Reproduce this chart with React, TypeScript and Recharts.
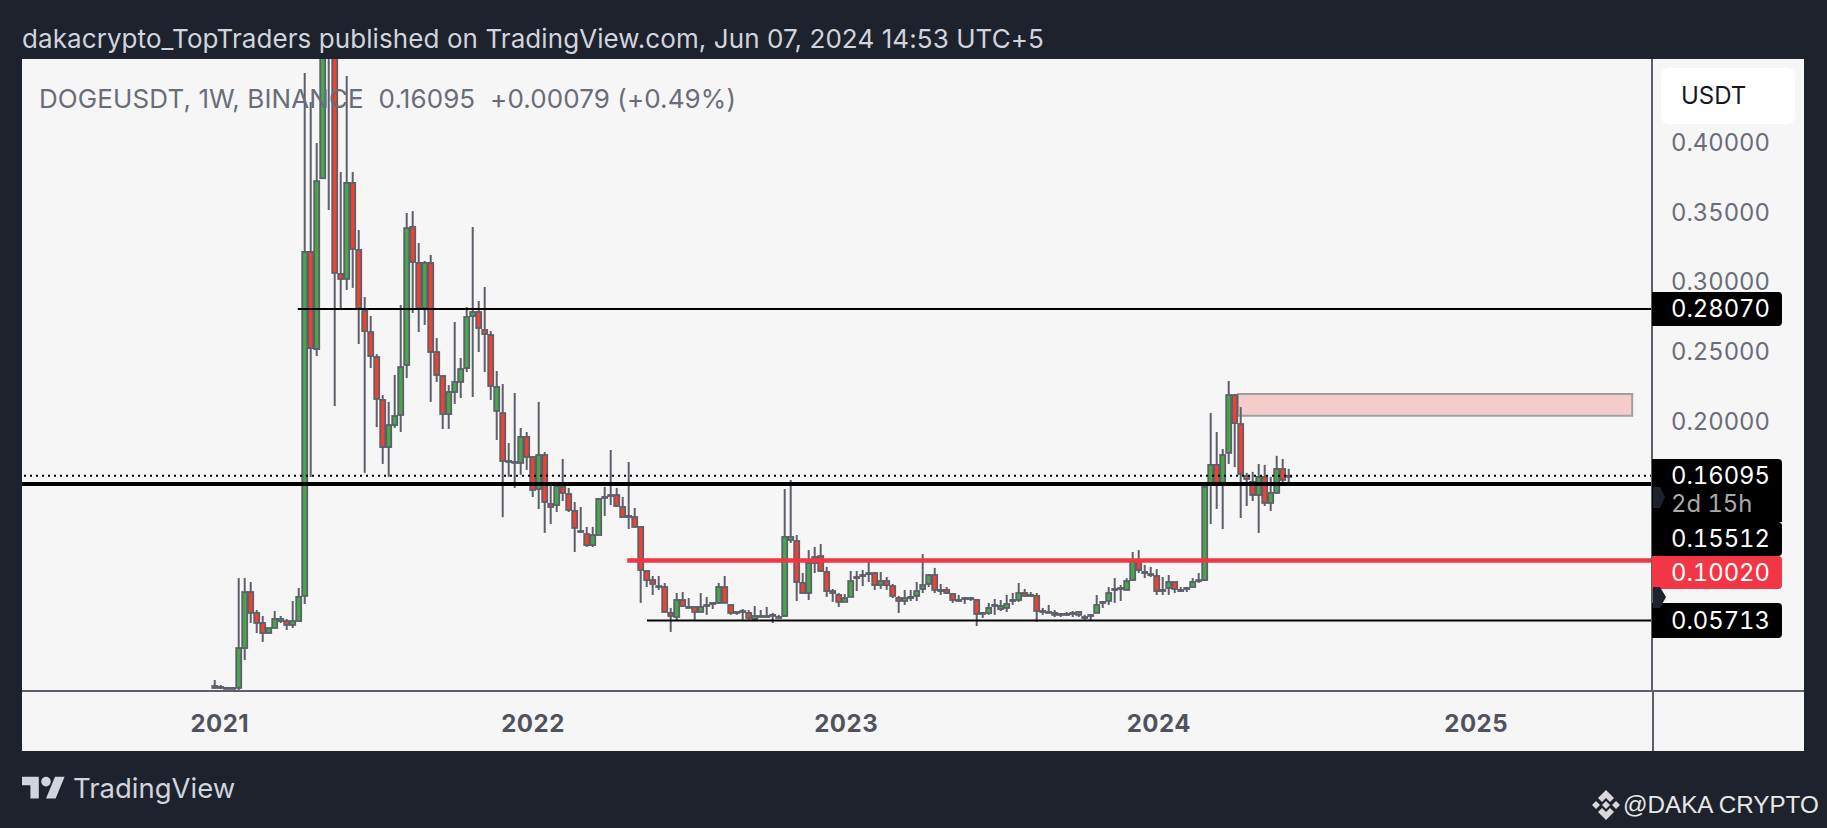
import {
  ComposedChart,
  XAxis,
  YAxis,
  Bar,
  ReferenceLine,
  ReferenceArea,
} from "recharts";

const opens = [
  0.0088, 0.0095, 0.0088, 0.0088, 0.0088, 0.0374, 0.0776, 0.0626, 0.0554, 0.0482,
  0.0518, 0.0568, 0.0568, 0.054, 0.0568, 0.0748, 0.3216, 0.2519, 0.3745, 0.62,
  0.5, 0.3058, 0.3022, 0.3711, 0.323, 0.2792, 0.2641, 0.2462, 0.2154, 0.1816,
  0.1974, 0.2046, 0.2405, 0.3395, 0.3137, 0.2814, 0.3137, 0.2498, 0.2326, 0.2053,
  0.2211, 0.2283, 0.2383, 0.2756, 0.2785, 0.2656, 0.262, 0.2075, 0.206, 0.1716,
  0.1702, 0.1702, 0.1889, 0.1745, 0.1515, 0.1759, 0.1408, 0.14, 0.153, 0.1479,
  0.1358, 0.1214, 0.1192, 0.1113, 0.1185, 0.1451, 0.1472, 0.1472, 0.1386, 0.1322,
  0.1314, 0.1243, 0.0927, 0.0862, 0.0819, 0.0812, 0.0626, 0.0597, 0.0719, 0.0669,
  0.0669, 0.0633, 0.0676, 0.0698, 0.0698, 0.0812, 0.0683, 0.0633, 0.064, 0.0626,
  0.0583, 0.0604, 0.0604, 0.0612, 0.0597, 0.0604, 0.1149, 0.1142, 0.0841, 0.0769,
  0.0984, 0.1034, 0.092, 0.0783, 0.0755, 0.0705, 0.0741, 0.0876, 0.0891, 0.0912,
  0.0912, 0.0826, 0.0855, 0.0819, 0.0733, 0.0712, 0.0741, 0.0748, 0.0798, 0.0834,
  0.0898, 0.0791, 0.0791, 0.0762, 0.0719, 0.0733, 0.0733, 0.0719, 0.0626, 0.0626,
  0.0683, 0.0654, 0.0662, 0.0712, 0.0719, 0.0769, 0.0755, 0.0748, 0.064, 0.0633,
  0.0612, 0.0619, 0.0619, 0.0626, 0.0612, 0.0597, 0.0604, 0.0626, 0.0705, 0.0712,
  0.0798, 0.0805, 0.0791, 0.0862, 0.1006, 0.092, 0.0905, 0.0891, 0.0791, 0.0805,
  0.0848, 0.0791, 0.0805, 0.0812, 0.0855, 0.0862, 0.1544, 0.1688, 0.1544, 0.1774,
  0.2189, 0.1981, 0.1609, 0.1566, 0.1472, 0.1602, 0.1415, 0.1487, 0.1659, 0.1602,
];

const closes = [
  0.0102, 0.0088, 0.0084, 0.0084, 0.0374, 0.0776, 0.0626, 0.0554, 0.0482, 0.0518,
  0.0583, 0.0583, 0.054, 0.0568, 0.0741, 0.3216, 0.2526, 0.3724, 0.58, 0.5,
  0.3065, 0.3022, 0.3711, 0.3237, 0.2814, 0.2648, 0.2469, 0.2161, 0.1816, 0.1974,
  0.2039, 0.239, 0.3387, 0.3144, 0.2814, 0.3137, 0.2498, 0.2333, 0.2053, 0.2211,
  0.2283, 0.2376, 0.2749, 0.2785, 0.267, 0.2627, 0.2254, 0.2247, 0.1716, 0.1709,
  0.1709, 0.1889, 0.1745, 0.1508, 0.1759, 0.1422, 0.1386, 0.1537, 0.1487, 0.1365,
  0.1236, 0.1207, 0.1113, 0.1185, 0.1444, 0.1458, 0.1465, 0.1393, 0.1314, 0.1314,
  0.1243, 0.0934, 0.0862, 0.0834, 0.0812, 0.0633, 0.0604, 0.0719, 0.0676, 0.0665,
  0.0633, 0.0669, 0.0683, 0.069, 0.0812, 0.0698, 0.0626, 0.0626, 0.0633, 0.059,
  0.0604, 0.06, 0.06, 0.0608, 0.0593, 0.1171, 0.1171, 0.0848, 0.0769, 0.0984,
  0.1027, 0.0927, 0.0783, 0.0769, 0.0705, 0.0733, 0.0855, 0.0884, 0.0898, 0.0905,
  0.0826, 0.0855, 0.0826, 0.0748, 0.0712, 0.0733, 0.0733, 0.0783, 0.0826, 0.0898,
  0.0791, 0.0783, 0.0769, 0.0719, 0.0712, 0.0726, 0.0726, 0.0619, 0.0619, 0.0662,
  0.0676, 0.0676, 0.069, 0.0719, 0.0769, 0.0748, 0.0748, 0.064, 0.0633, 0.0626,
  0.0626, 0.0612, 0.0612, 0.0619, 0.0633, 0.059, 0.0611, 0.0683, 0.0698, 0.0769,
  0.0791, 0.0798, 0.0855, 0.1006, 0.0934, 0.0912, 0.0898, 0.0783, 0.0783, 0.0848,
  0.0798, 0.0783, 0.0798, 0.0848, 0.0862, 0.153, 0.1688, 0.1544, 0.1759, 0.2189,
  0.1988, 0.1623, 0.1587, 0.1472, 0.1602, 0.1415, 0.1487, 0.1659, 0.158, 0.161,
];

const highs = [
  0.0145, 0.0109, 0.0095, 0.0095, 0.0876, 0.0876, 0.0848, 0.0647, 0.0604, 0.0518,
  0.064, 0.0604, 0.0583, 0.0712, 0.0805, 0.4499, 0.4292, 0.3997, 0.7, 0.7,
  0.56, 0.3789, 0.4478, 0.3789, 0.3373, 0.2892, 0.2756, 0.2483, 0.2189, 0.214,
  0.2333, 0.2835, 0.3495, 0.3509, 0.328, 0.3151, 0.3194, 0.2598, 0.2326, 0.2261,
  0.2713, 0.2455, 0.2821, 0.3395, 0.2864, 0.2964, 0.2648, 0.2362, 0.2268, 0.1845,
  0.2204, 0.1953, 0.1924, 0.1745, 0.214, 0.178, 0.1558, 0.1558, 0.1731, 0.1523,
  0.1422, 0.1386, 0.1243, 0.1243, 0.1451, 0.153, 0.1795, 0.1523, 0.1458, 0.1709,
  0.1379, 0.125, 0.0927, 0.0891, 0.0891, 0.0841, 0.0662, 0.0769, 0.0776, 0.0733,
  0.0669, 0.0769, 0.074, 0.0705, 0.0841, 0.0891, 0.069, 0.0633, 0.0654, 0.0647,
  0.0676, 0.0647, 0.0669, 0.0626, 0.0612, 0.1515, 0.158, 0.1185, 0.0912, 0.1077,
  0.1099, 0.112, 0.0956, 0.0798, 0.0769, 0.0762, 0.0927, 0.0927, 0.0934, 0.0991,
  0.092, 0.092, 0.0884, 0.0834, 0.0748, 0.0791, 0.0791, 0.0848, 0.1049, 0.0905,
  0.0949, 0.0834, 0.0812, 0.0769, 0.0755, 0.0741, 0.0741, 0.0726, 0.0633, 0.0698,
  0.0726, 0.0719, 0.0755, 0.0769, 0.0841, 0.0798, 0.0776, 0.0769, 0.0662, 0.0683,
  0.0647, 0.0626, 0.0633, 0.064, 0.064, 0.0612, 0.0619, 0.0755, 0.0712, 0.0812,
  0.0876, 0.0826, 0.0876, 0.1063, 0.1077, 0.097, 0.0956, 0.0941, 0.0884, 0.0898,
  0.0848, 0.0812, 0.0812, 0.0876, 0.0912, 0.1558, 0.206, 0.1924, 0.1802, 0.229,
  0.2197, 0.2103, 0.1631, 0.1638, 0.1695, 0.1688, 0.1602, 0.1753, 0.1731, 0.1659,
];

const lows = [
  0.0081, 0.0081, 0.0081, 0.0081, 0.0073, 0.0288, 0.0554, 0.0482, 0.0418, 0.0482,
  0.0518, 0.0554, 0.0504, 0.0518, 0.0568, 0.069, 0.1602, 0.2469, 0.3745, 0.3516,
  0.2111, 0.2806, 0.2943, 0.2958, 0.2555, 0.1631, 0.2383, 0.196, 0.1695, 0.1602,
  0.1953, 0.1924, 0.2311, 0.2778, 0.2641, 0.2692, 0.214, 0.2283, 0.1946, 0.1946,
  0.2125, 0.2168, 0.2354, 0.2175, 0.2498, 0.2354, 0.2154, 0.1867, 0.1313, 0.1602,
  0.1523, 0.1617, 0.1652, 0.1458, 0.1372, 0.12, 0.1264, 0.135, 0.1429, 0.135,
  0.1063, 0.12, 0.1099, 0.1099, 0.1185, 0.1322, 0.14, 0.1386, 0.1314, 0.1228,
  0.1236, 0.0698, 0.0812, 0.0755, 0.0791, 0.0633, 0.049, 0.0576, 0.0669, 0.0662,
  0.0576, 0.0633, 0.0612, 0.0654, 0.069, 0.0698, 0.0612, 0.0612, 0.0576, 0.0569,
  0.0569, 0.0597, 0.0597, 0.0554, 0.059, 0.0597, 0.1128, 0.0712, 0.0769, 0.0719,
  0.0912, 0.092, 0.0741, 0.0705, 0.0669, 0.0705, 0.0741, 0.0783, 0.0819, 0.0848,
  0.0791, 0.0798, 0.0791, 0.0733, 0.0626, 0.0683, 0.0712, 0.0712, 0.0769, 0.0812,
  0.0769, 0.0755, 0.0762, 0.0698, 0.0712, 0.069, 0.0712, 0.0532, 0.059, 0.0612,
  0.0612, 0.064, 0.0633, 0.0683, 0.0705, 0.0741, 0.0741, 0.0561, 0.0612, 0.0626,
  0.0597, 0.0597, 0.0604, 0.0597, 0.0597, 0.0576, 0.0576, 0.0626, 0.0662, 0.0683,
  0.0698, 0.0712, 0.0791, 0.0862, 0.0912, 0.0876, 0.0884, 0.0755, 0.0755, 0.0755,
  0.0769, 0.0776, 0.0776, 0.0812, 0.0841, 0.0855, 0.1264, 0.1372, 0.1228, 0.1695,
  0.1673, 0.1307, 0.1393, 0.1429, 0.12, 0.1393, 0.1358, 0.148, 0.1559, 0.1559,
];

const yearTicks = [0.8, 53, 105.2, 157.3, 210.2];
const yearLabels = ["2021", "2022", "2023", "2024", "2025"];
const priceTicks = [0.2, 0.25, 0.3, 0.35, 0.4];

const candles = opens.map((open, i) => ({
  week: i,
  open,
  close: closes[i],
  high: highs[i],
  low: lows[i],
  range: [lows[i], highs[i]],
}));

const GRAY = "#5d606b";
const font = "Inter, sans-serif";

function Candle(props: any) {
  const { x, y, width, height, payload } = props;
  const { open, close, high, low } = payload;
  const h = Math.abs(height);
  const unit = h / (high - low);
  const cx = x + width / 2;
  const top = y + (high - Math.max(open, close)) * unit;
  const bottom = y + (high - Math.min(open, close)) * unit;
  return (
    <g>
      <line x1={cx} x2={cx} y1={y} y2={y + h} stroke={GRAY} strokeWidth={2} />
      <rect
        x={cx - 2.5}
        y={top}
        width={5}
        height={Math.max(bottom - top, 1)}
        fill={close >= open ? "#47a84b" : "#f4402f"}
        stroke={GRAY}
        strokeWidth={1.8}
      />
    </g>
  );
}

function PriceTag(props: { top: number; height: number; text: string; color?: string }) {
  return (
    <div
      style={{
        position: "absolute",
        left: 1652,
        top: props.top,
        width: 130,
        height: props.height,
        background: props.color || "#000",
        borderRadius: "0 4px 4px 0",
        color: "#fff",
        fontFamily: font,
        fontSize: 23.8,
        fontVariantNumeric: "tabular-nums",
        lineHeight: props.height + "px",
        paddingLeft: 19,
        boxSizing: "border-box",
      }}
    >
      {props.text}
    </div>
  );
}

export default function App() {
  return (
    <div
      style={{
        position: "absolute",
        left: 0,
        top: 0,
        width: 1827,
        height: 828,
        background: "#1e222d",
        overflow: "hidden",
      }}
    >
      <div style={{ position: "absolute", left: 22, top: 59, width: 1782, height: 692, background: "#f6f6f6" }} />
      <div style={{ position: "absolute", left: 22, top: 690, width: 1782, height: 2, background: GRAY }} />

      <div style={{ position: "absolute", left: 0, top: 0 }}>
        <ComposedChart
          width={1827}
          height={828}
          data={candles}
          margin={{ top: 59, right: 23, bottom: 77, left: 22 }}
        >
          <XAxis
            dataKey="week"
            type="number"
            domain={[-32.17, 239.5]}
            ticks={yearTicks}
            tickFormatter={(v: number) => yearLabels[yearTicks.indexOf(v)]}
            height={60}
            tickLine={false}
            axisLine={false}
            tickMargin={18}
            tick={{ fill: "#50535e", fontSize: 24, fontWeight: 700, fontFamily: font, letterSpacing: 0.5 }}
            allowDataOverflow
          />
          <YAxis
            orientation="right"
            domain={[0.0066, 0.46]}
            ticks={priceTicks}
            tickFormatter={(v: number) => v.toFixed(5)}
            width={152}
            tickLine={false}
            tickMargin={13}
            stroke={GRAY}
            strokeWidth={2}
            tick={{ fill: "#6a6d78", fontSize: 23.8, fontFamily: font, textAnchor: "start", style: { fontVariantNumeric: "tabular-nums" } }}
            allowDataOverflow
          />
          <ReferenceArea
            x1={170.5}
            x2={236.2}
            y1={0.2041}
            y2={0.2197}
            fill="#f5cccc"
            fillOpacity={1}
            stroke="#a0a0a0"
            strokeWidth={2}
          />
          <ReferenceLine segment={[{ x: 13.8, y: 0.2807 }, { x: 239.5, y: 0.2807 }]} stroke="#000" strokeWidth={2} />
          <ReferenceLine y={0.16095} stroke="#000" strokeWidth={2} strokeDasharray="2 4" />
          <ReferenceLine y={0.15512} stroke="#000" strokeWidth={4} />
          <ReferenceLine segment={[{ x: 68.7, y: 0.1002 }, { x: 239.5, y: 0.1002 }]} stroke="#f23645" strokeWidth={4.5} />
          <ReferenceLine segment={[{ x: 72, y: 0.05713 }, { x: 239.5, y: 0.05713 }]} stroke="#000" strokeWidth={2} />
          <Bar dataKey="range" barSize={6} shape={Candle} isAnimationActive={false} />
        </ComposedChart>
      </div>

      <div style={{ position: "absolute", left: 1652, top: 691, width: 2, height: 60, background: GRAY }} />

      <div style={{ position: "absolute", left: 22, top: 23, color: "#d1d4dc", fontFamily: font, fontSize: 26, letterSpacing: 0.08, lineHeight: "32px", whiteSpace: "pre" }}>
        dakacrypto_TopTraders published on TradingView.com, Jun 07, 2024 14:53 UTC+5
      </div>
      <div style={{ position: "absolute", left: 39, top: 83, color: "#6a6d78", fontFamily: font, fontSize: 26, letterSpacing: 0.1, lineHeight: "32px", whiteSpace: "pre" }}>
        {"DOGEUSDT, 1W, BINANCE  0.16095  +0.00079 (+0.49%)"}
      </div>

      <div
        style={{
          position: "absolute",
          left: 1661,
          top: 68,
          width: 134,
          height: 56,
          background: "#fff",
          borderRadius: 8,
          color: "#131722",
          fontFamily: font,
          fontSize: 24,
          lineHeight: "56px",
          paddingLeft: 20,
          boxSizing: "border-box",
        }}
      >
        USDT
      </div>

      <PriceTag top={292} height={34} text="0.28070" />
      <PriceTag top={459} height={34} text="0.16095" />
      <div
        style={{
          position: "absolute",
          left: 1652,
          top: 490,
          width: 130,
          height: 32,
          background: "#000",
          color: "#a9a9a9",
          fontFamily: font,
          fontSize: 23.8,
          fontVariantNumeric: "tabular-nums",
          lineHeight: "28px",
          paddingLeft: 19,
          boxSizing: "border-box",
        }}
      >
        2d 15h
      </div>
      <PriceTag top={522} height={34} text="0.15512" />
      <PriceTag top={556} height={33} text="0.10020" color="#f23645" />
      <PriceTag top={603} height={35} text="0.05713" />

      <svg style={{ position: "absolute", left: 0, top: 0 }} width={1827} height={828}>
        <polygon points="1653,487 1660,487 1665,497 1660,508 1653,508" fill="#1e222d" />
        <polygon points="1653,587 1660,587 1666,597 1660,608 1653,608" fill="#1e222d" />
        <g transform="translate(22,772) scale(1.2)" fill="#d1d4dc">
          <path d="M14 22H7V11H0V4h14v18zM28 22h-8l7.5-18h8L28 22z" />
          <circle cx="20" cy="8" r="4" />
        </g>
        <g fill="#d8d8d8">
          <polygon points="1606,790 1614,798 1610,802 1606,798 1602,802 1598,798" />
          <polygon points="1606,820 1614,812 1610,808 1606,812 1602,808 1598,812" />
          <polygon points="1606,801 1610,805 1606,809 1602,805" />
          <polygon points="1596,801 1600,805 1596,809 1592,805" />
          <polygon points="1616,801 1620,805 1616,809 1612,805" />
        </g>
      </svg>

      <div style={{ position: "absolute", left: 73, top: 770, color: "#d1d4dc", fontFamily: font, fontSize: 27.5, lineHeight: "36px" }}>
        TradingView
      </div>
      <div style={{ position: "absolute", left: 1623, top: 790, color: "#e8e8e8", fontFamily: "'Liberation Sans', sans-serif", fontSize: 24.2, lineHeight: "30px", whiteSpace: "pre" }}>
        @DAKA CRYPTO
      </div>
    </div>
  );
}
